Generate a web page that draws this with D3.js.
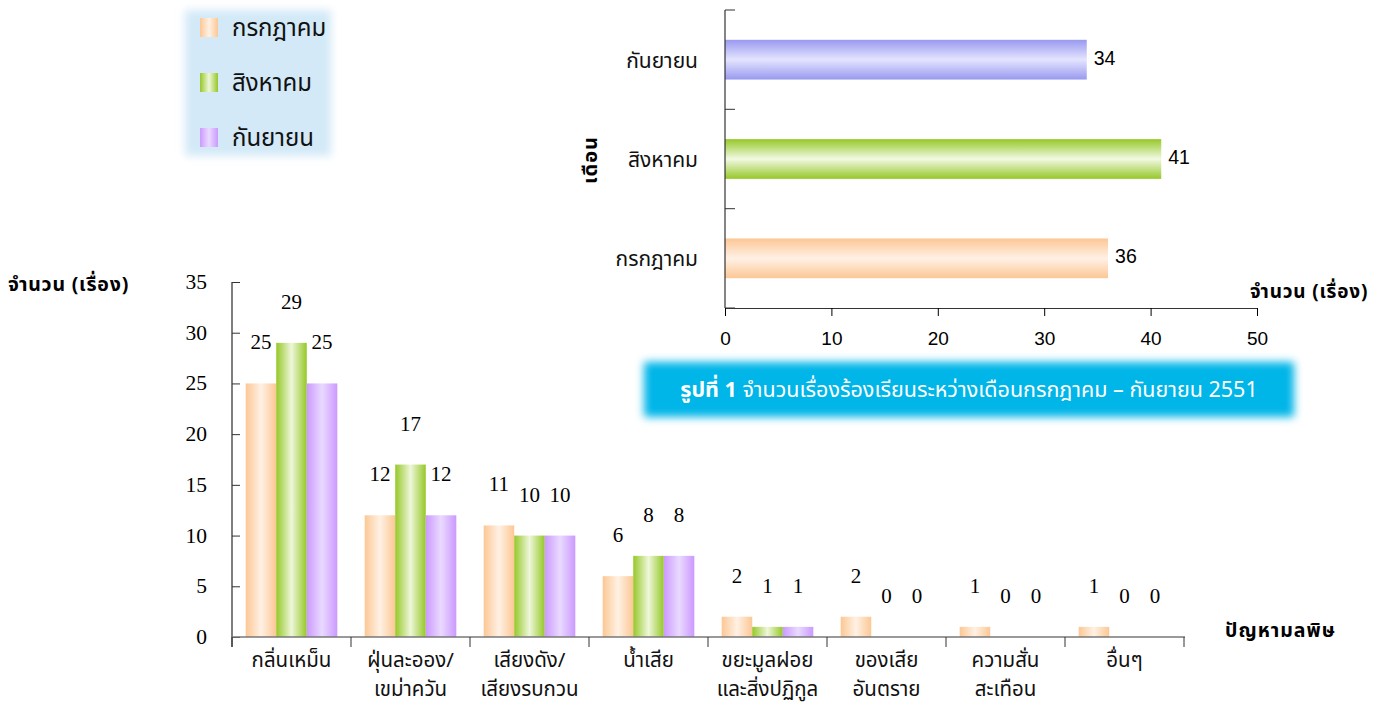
<!DOCTYPE html>
<html><head><meta charset="utf-8">
<script src="https://cdn.jsdelivr.net/npm/d3@7"></script>
<style>
body{margin:0;background:#fff;}
svg{display:block;}
</style></head>
<body>
<svg id="c" width="1393" height="706"></svg>
<script>
const categories = [["กลิ่นเหม็น"],["ฝุ่นละออง/","เขม่าควัน"],["เสียงดัง/","เสียงรบกวน"],["น้ำเสีย"],["ขยะมูลฝอย","และสิ่งปฏิกูล"],["ของเสีย","อันตราย"],["ความสั่น","สะเทือน"],["อื่นๆ"]];
const months = ["กรกฎาคม","สิงหาคม","กันยายน"];
const julyValues = [25,12,11,6,2,2,1,1];
const augValues = [29,17,10,8,1,0,0,0];
const sepValues = [25,12,10,8,1,0,0,0];
const monthTotals = [36,41,34];
const yTicks = [0,5,10,15,20,25,30,35];
const xTicksTop = [0,10,20,30,40,50];

const THAI = "'Noto Sans Thai','Tahoma','Noto Sans',sans-serif";
const SERIF = "'Liberation Serif','Times New Roman',serif";
const SANS = "'Liberation Sans',Arial,sans-serif";

const svg = d3.select("#c");
const defs = svg.append("defs");

const seriesCols = [
  {edge:"#FCC794", mid:"#FFF1E4"},
  {edge:"#96C828", mid:"#EEF7DA"},
  {edge:"#CC99FF", mid:"#E9DAFF"}
];
const topCols = [
  {edge:"#FCC794", mid:"#FFF1E6"},
  {edge:"#96C828", mid:"#F2F9E4"},
  {edge:"#9999F0", mid:"#E4E4FF"}
];
function grad(id, c, vertical){
  const g = defs.append("linearGradient").attr("id",id)
    .attr("x1",0).attr("y1",0).attr("x2",vertical?0:1).attr("y2",vertical?1:0);
  g.append("stop").attr("offset","0%").attr("stop-color",c.edge);
  g.append("stop").attr("offset","50%").attr("stop-color",c.mid);
  g.append("stop").attr("offset","100%").attr("stop-color",c.edge);
}
seriesCols.forEach((c,i)=>grad("gv"+i,c,false));
topCols.forEach((c,i)=>grad("gh"+i,c,true));
const f = defs.append("filter").attr("id","blur").attr("x","-20%").attr("y","-20%").attr("width","140%").attr("height","140%");
f.append("feGaussianBlur").attr("stdDeviation",4);

// ---------- Bottom grouped bar chart ----------
const x0 = d3.scaleBand().domain(d3.range(categories.length)).range([232,1184]).paddingInner(0.23).paddingOuter(0.115);
const x1 = d3.scaleBand().domain([0,1,2]).range([0,x0.bandwidth()]);
const y = d3.scaleLinear().domain([0,35]).range([637,282]);
const series = [julyValues, augValues, sepValues];

const gb = svg.append("g");
series.forEach((vals,s)=>{
  gb.selectAll(".b"+s).data(vals).enter().append("rect")
    .attr("x",(d,i)=>x0(i)+x1(s))
    .attr("y",d=>y(d))
    .attr("width",x1.bandwidth())
    .attr("height",d=>y(0)-y(d))
    .attr("fill","url(#gv"+s+")");
  gb.selectAll(".l"+s).data(vals).enter().append("text")
    .attr("x",(d,i)=>x0(i)+x1(s)+x1.bandwidth()/2)
    .attr("y",d=>y(d)-34)
    .attr("text-anchor","middle")
    .attr("font-family",SERIF).attr("font-size",21).attr("fill","#000")
    .text(d=>d);
});

// y axis
const yAxis = svg.append("g").attr("transform","translate(232,0)")
  .call(d3.axisRight(y).tickValues(yTicks).tickSize(8).tickFormat(""));
yAxis.select(".domain").attr("stroke","#555").attr("stroke-width",1.5).attr("d","M0,282V647");
yAxis.selectAll("line").attr("stroke","#333");
svg.append("g").selectAll("text").data(yTicks).enter().append("text")
  .attr("x",207).attr("y",d=>y(d)+7).attr("text-anchor","end")
  .attr("font-family",SERIF).attr("font-size",21.5).text(d=>d);

// x axis
svg.append("line").attr("x1",232).attr("x2",1185).attr("y1",637).attr("y2",637).attr("stroke","#777").attr("stroke-width",1.5);
const bounds = d3.range(categories.length+1).map(i=> i<categories.length ? x0(i)-x0.step()*x0.paddingInner()/2 : x0(i-1)+x0.bandwidth()+x0.step()*x0.paddingInner()/2);
svg.append("g").selectAll("line").data(bounds).enter().append("line")
  .attr("x1",d=>d).attr("x2",d=>d).attr("y1",637).attr("y2",647).attr("stroke","#333");
const cl = svg.append("g").selectAll("text").data(categories).enter().append("text")
  .attr("text-anchor","middle").attr("font-family",THAI).attr("font-size",20.5).attr("fill","#111");
cl.each(function(lines,i){
  const t = d3.select(this);
  lines.forEach((ln,k)=>{
    t.append("tspan").attr("x",x0(i)+x0.bandwidth()/2).attr("y",667+k*29).text(ln);
  });
});
svg.append("text").attr("x",8).attr("y",291).attr("font-family",THAI).attr("font-weight","bold").attr("font-size",19.5).attr("letter-spacing",0.8).text("จำนวน (เรื่อง)");
svg.append("text").attr("x",1225).attr("y",637).attr("font-family",THAI).attr("font-weight","bold").attr("font-size",19.5).attr("letter-spacing",1).text("ปัญหามลพิษ");

// ---------- Legend ----------
svg.append("rect").attr("x",185).attr("y",10).attr("width",146).attr("height",146).attr("fill","#D3E9F7").attr("filter","url(#blur)");
const lg = svg.append("g").selectAll("g").data(months).enter().append("g")
  .attr("transform",(d,i)=>`translate(200,${18+i*55})`);
lg.append("rect").attr("width",18).attr("height",19).attr("fill",(d,i)=>"url(#gv"+i+")");
lg.append("text").attr("x",32).attr("y",18).attr("font-family",THAI).attr("font-size",24).attr("fill","#111").text(d=>d);

// ---------- Top-right horizontal bar chart ----------
const hx = d3.scaleLinear().domain([0,50]).range([725,1257]);
const hy = d3.scaleBand().domain([2,1,0]).range([10,308]).paddingInner(0.6).paddingOuter(0.3);
const gt = svg.append("g");
gt.selectAll("rect").data(monthTotals).enter().append("rect")
  .attr("x",hx(0)).attr("y",(d,i)=>hy(i)).attr("width",d=>hx(d)-hx(0)).attr("height",hy.bandwidth())
  .attr("fill",(d,i)=>"url(#gh"+i+")");
gt.selectAll(".v").data(monthTotals).enter().append("text")
  .attr("x",d=>hx(d)+7).attr("y",(d,i)=>hy(i)+hy.bandwidth()/2+5)
  .attr("font-family",SANS).attr("font-size",19.5).text(d=>d);
gt.selectAll(".m").data(months).enter().append("text")
  .attr("x",698).attr("y",(d,i)=>hy(i)+hy.bandwidth()/2+8).attr("text-anchor","end")
  .attr("font-family",THAI).attr("font-size",21).attr("fill","#111").text(d=>d);
// month axis boundaries
const hb = [10,109.3,208.7,308];
svg.append("line").attr("x1",725).attr("x2",725).attr("y1",10).attr("y2",308).attr("stroke","#333").attr("stroke-width",1.2);
svg.append("g").selectAll("line").data(hb).enter().append("line")
  .attr("x1",725).attr("x2",735).attr("y1",d=>d).attr("y2",d=>d).attr("stroke","#333");
const xa = svg.append("g").attr("transform","translate(0,308)")
  .call(d3.axisBottom(hx).tickValues(xTicksTop).tickSize(8).tickPadding(16));
xa.select(".domain").attr("stroke","#333");
xa.selectAll("text").attr("font-family",SANS).attr("font-size",19).attr("fill","#000");
svg.append("text").attr("x",1250).attr("y",298).attr("font-family",THAI).attr("font-weight","bold").attr("font-size",19).attr("letter-spacing",0.8).text("จำนวน (เรื่อง)");
svg.append("text").attr("transform","translate(597,160) rotate(-90)").attr("text-anchor","middle")
  .attr("font-family",THAI).attr("font-weight","bold").attr("font-size",20).attr("letter-spacing",1).text("เดือน");

// ---------- Caption ----------
svg.append("rect").attr("x",644).attr("y",362).attr("width",650).attr("height",55).attr("fill","#00B5E8").attr("filter","url(#blur)");
const cap = svg.append("text").attr("x",969).attr("y",397).attr("text-anchor","middle")
  .attr("font-family",THAI).attr("font-size",21.5).attr("fill","#fff");
cap.append("tspan").attr("font-weight","bold").text("รูปที่ 1 ");
cap.append("tspan").text("จำนวนเรื่องร้องเรียนระหว่างเดือนกรกฎาคม – กันยายน 2551");
</script>
</body></html>
